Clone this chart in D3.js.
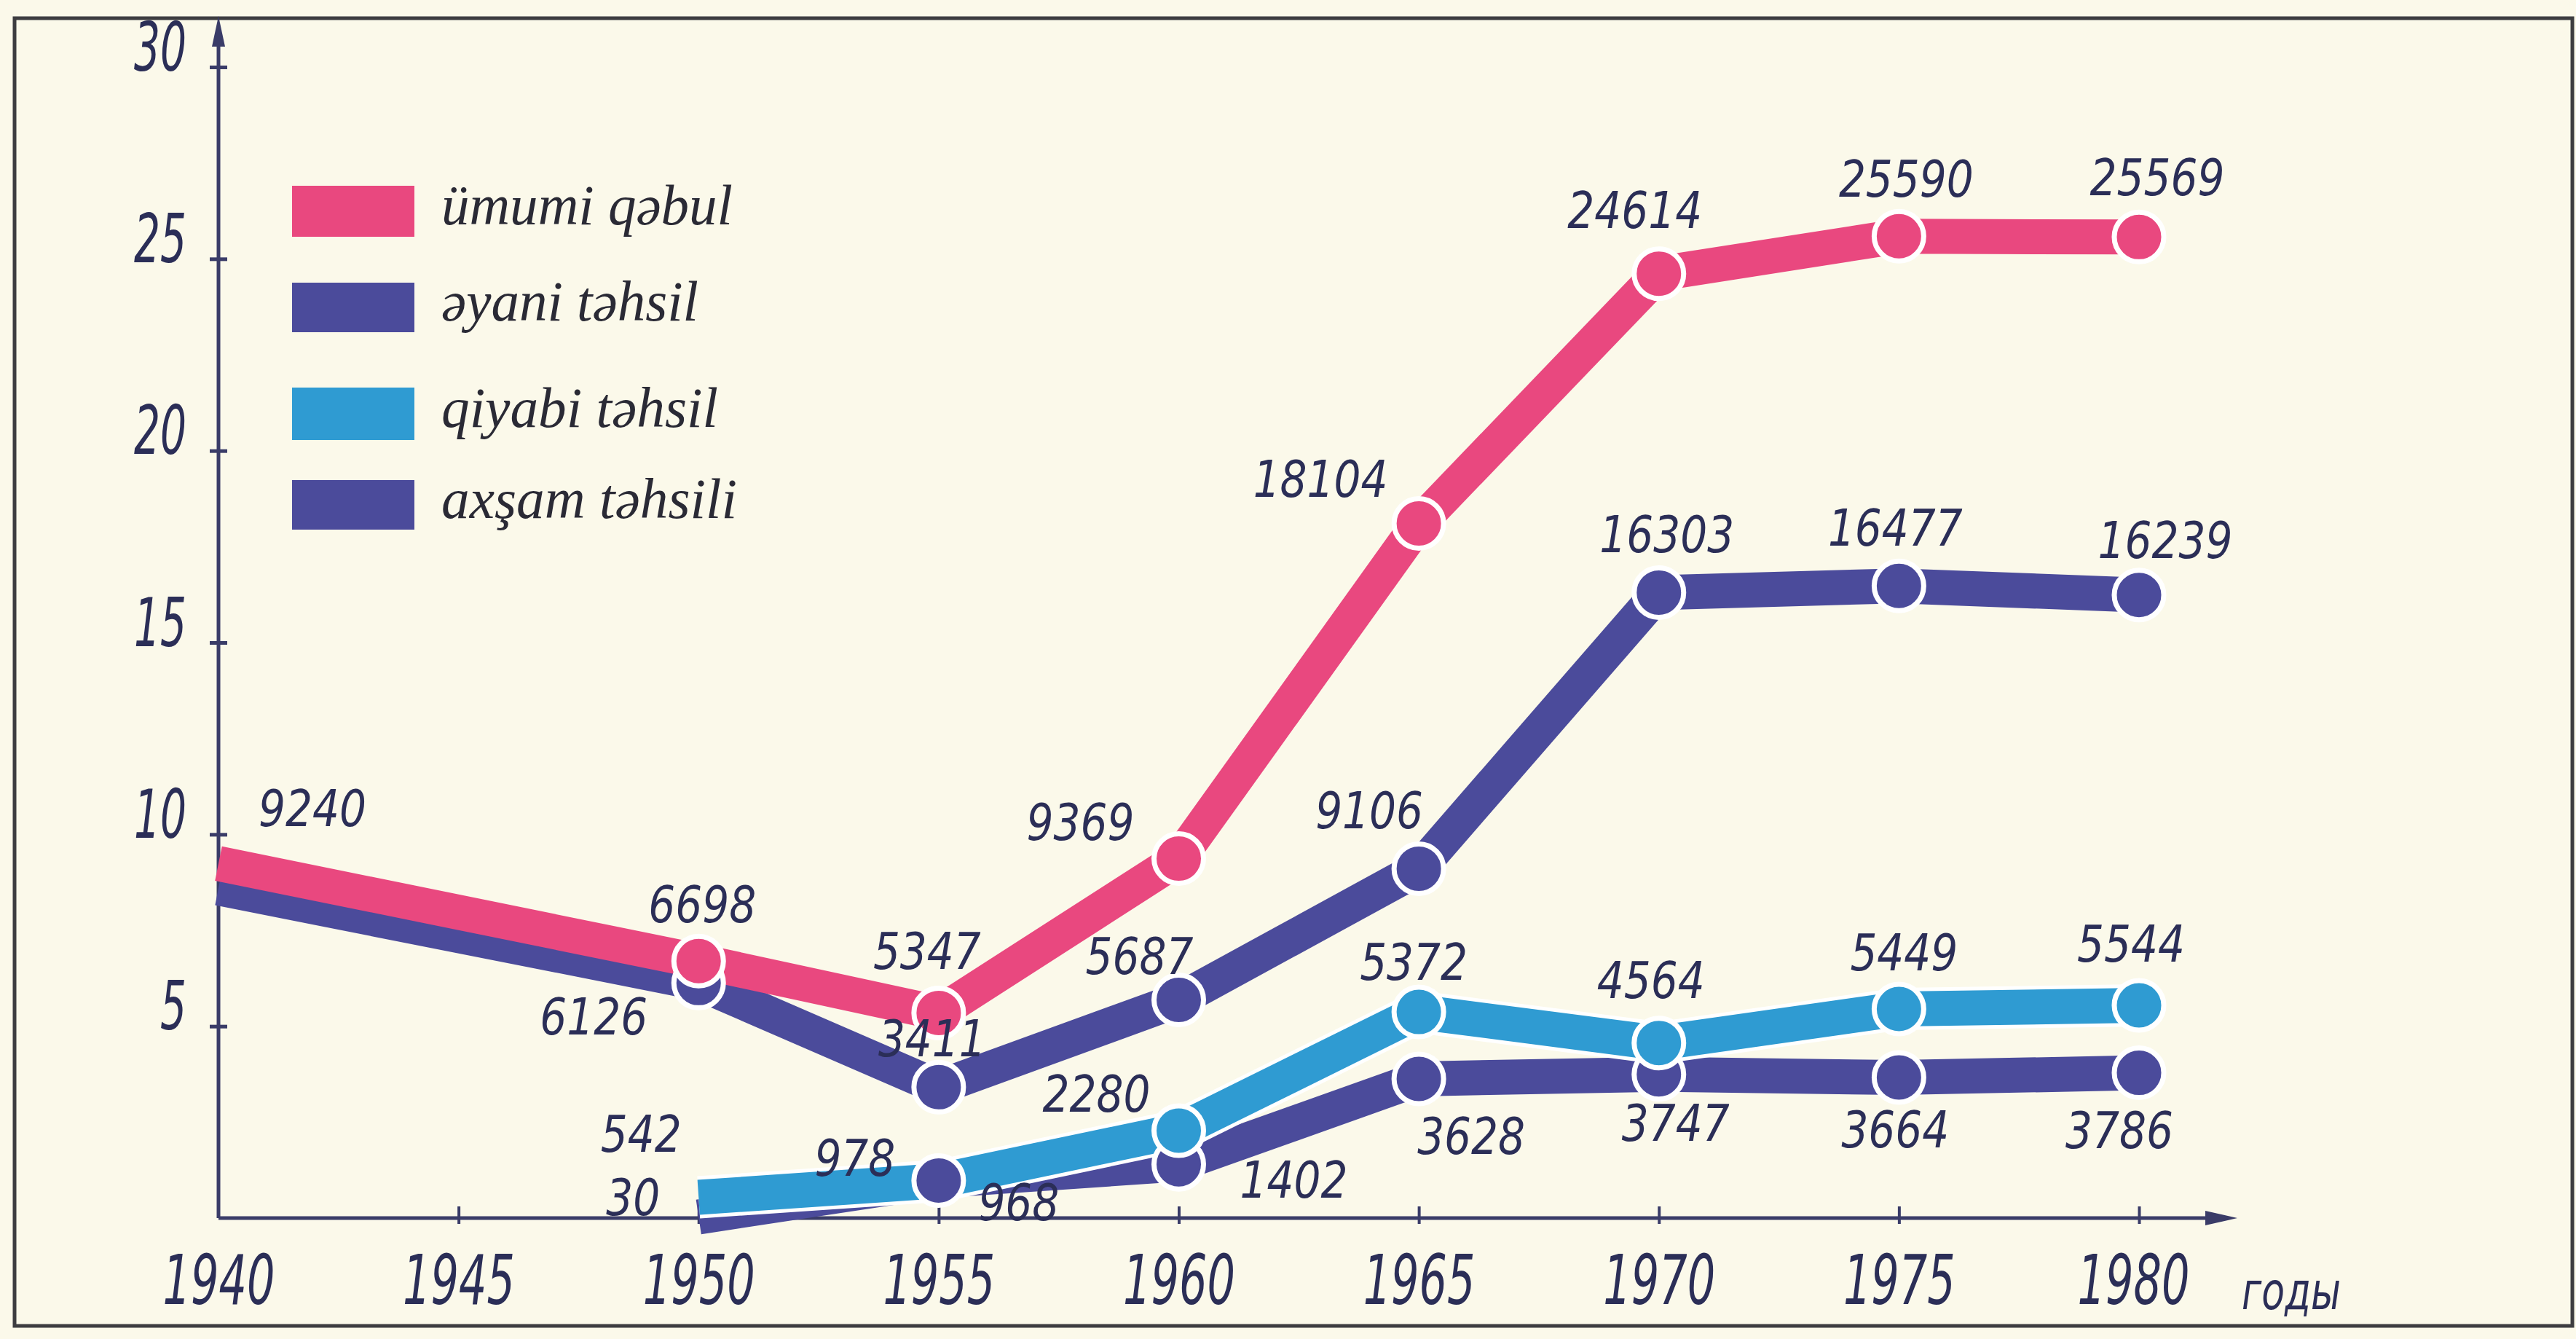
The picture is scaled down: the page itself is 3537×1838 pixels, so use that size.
<!DOCTYPE html>
<html>
<head>
<meta charset="utf-8">
<script src="https://cdn.jsdelivr.net/npm/d3@7"></script>
<style>
  html, body { margin: 0; padding: 0; background: #fbf9ea; }
  svg { display: block; }
</style>
</head>
<body>
<svg id="chart" width="3537" height="1838"></svg>
<script>
// ---- data -------------------------------------------------------------
const yearTicks = [1940, 1945, 1950, 1955, 1960, 1965, 1970, 1975, 1980];
const valueTicks = [5, 10, 15, 20, 25, 30];           // thousands
const seriesNames = ["ümumi qəbul", "əyani təhsil", "qiyabi təhsil", "axşam təhsili"];
const axisUnit = "годы";

const yearsFull = [1940, 1950, 1955, 1960, 1965, 1970, 1975, 1980];
const yearsPart = [1950, 1955, 1960, 1965, 1970, 1975, 1980];

const umumiQebul   = [9240, 6698, 5347, 9369, 18104, 24614, 25590, 25569];
const eyaniTehsil  = [8600, 6126, 3411, 5687, 9106, 16303, 16477, 16239];
const qiyabiTehsil = [542, 968, 2280, 5372, 4564, 5449, 5544];
const axsamTehsili = [30, 978, 1402, 3628, 3747, 3664, 3786];

// ---- styling / layout -------------------------------------------------
const W = 3537, H = 1838;
const PAPER = "#fbf9ea";
const INK = "#2b2e57";
const AXIS = "#3a3c68";
const PINK = "#e9487f";
const INDIGO = "#4b4b9b";
const CYAN = "#2f9bd2";
const BAND = 48, DOT_R = 34;

const DIGITS = "'DejaVu Sans', 'Liberation Sans', sans-serif";
const SERIF = "'Liberation Serif', 'DejaVu Serif', serif";

const x = d3.scaleLinear().domain([1940, 1980]).range([300, 2937]);
const y = d3.scaleLinear().domain([0, 30000]).range([1672, 92]);

// label offsets (label centre relative to its point), and first point carrying a dot
const series = [
  { name: seriesNames[0], years: yearsFull, values: umumiQebul, color: PINK, firstDot: 1,
    offsets: [[129, -77], [5, -79], [-16, -86], [-135, -52], [-135, -63], [-33, -89], [10, -80], [25, -83]] },
  { name: seriesNames[1], years: yearsFull, values: eyaniTehsil, color: INDIGO, firstDot: 1,
    offsets: [null, [-144, 45], [-9, -68], [-54, -61], [-68, -81], [11, -81], [-5, -81], [36, -77]] },
  { name: seriesNames[2], years: yearsPart, values: qiyabiTehsil, color: CYAN, firstDot: 2, casing: true,
    offsets: [[-79, -88], [110, 28], [-113, -52], [-7, -70], [-11, -88], [7, -79], [-11, -86]] },
  { name: seriesNames[3], years: yearsPart, values: axsamTehsili, color: INDIGO, firstDot: 1,
    offsets: [[-90, -28], [-115, -32], [158, 20], [72, 77], [23, 65], [-5, 70], [-27, 77]] }
];
const drawOrder = [3, 1, 0, 2];

const svg = d3.select("#chart");

svg.append("rect").attr("width", W).attr("height", H).attr("fill", PAPER);
svg.append("rect")
  .attr("x", 20).attr("y", 25).attr("width", 3512).attr("height", 1795)
  .attr("fill", "none").attr("stroke", "#3d3d40").attr("stroke-width", 5);

// ---- axes -------------------------------------------------------------
const yAxis = d3.axisLeft(y)
  .tickValues(valueTicks.map(v => v * 1000))
  .tickFormat(v => String(v / 1000))
  .tickSize(12);
const gy = svg.append("g").attr("transform", `translate(${x(1940)},0)`).call(yAxis);
gy.select(".domain").remove();
gy.selectAll(".tick line").attr("x1", -12).attr("x2", 12)
  .attr("stroke", AXIS).attr("stroke-width", 5);
gy.selectAll(".tick text")
  .attr("x", -44).attr("y", 4).attr("dy", null)
  .attr("text-anchor", "end")
  .attr("fill", INK)
  .attr("font-family", DIGITS).attr("font-style", "italic")
  .attr("font-size", 92)
  .attr("textLength", d => String(d / 1000).length * 36)
  .attr("lengthAdjust", "spacingAndGlyphs");

const xAxis = d3.axisBottom(x)
  .tickValues(yearTicks)
  .tickFormat(d3.format("d"))
  .tickSize(0);
const gx = svg.append("g").attr("transform", `translate(0,${y(0)})`).call(xAxis);
gx.select(".domain").remove();
gx.selectAll(".tick line")
  .attr("y1", d => d === 1940 ? 0 : -16).attr("y2", d => d === 1940 ? 0 : 8)
  .attr("stroke", AXIS).attr("stroke-width", 4);
gx.selectAll(".tick text")
  .attr("x", d => d === 1980 ? -8 : 0)
  .attr("y", 118).attr("dy", null)
  .attr("fill", INK)
  .attr("font-family", DIGITS).attr("font-style", "italic")
  .attr("font-size", 94)
  .attr("textLength", 154)
  .attr("lengthAdjust", "spacingAndGlyphs");

// axis lines with arrowheads
svg.append("line")
  .attr("x1", x(1940)).attr("y1", y(0)).attr("x2", x(1940)).attr("y2", 50)
  .attr("stroke", AXIS).attr("stroke-width", 5);
svg.append("path")
  .attr("d", `M${x(1940)},22 L${x(1940) - 9},64 L${x(1940) + 9},64 Z`)
  .attr("fill", AXIS);
svg.append("line")
  .attr("x1", x(1940)).attr("y1", y(0)).attr("x2", 3040).attr("y2", y(0))
  .attr("stroke", AXIS).attr("stroke-width", 5);
svg.append("path")
  .attr("d", `M3072,${y(0)} L3028,${y(0) - 10} L3028,${y(0) + 10} Z`)
  .attr("fill", AXIS);

svg.append("text")
  .attr("x", 3078).attr("y", 1797)
  .attr("fill", INK)
  .attr("font-family", DIGITS).attr("font-style", "italic")
  .attr("font-size", 72)
  .attr("textLength", 136).attr("lengthAdjust", "spacingAndGlyphs")
  .text(axisUnit);

// ---- lines ------------------------------------------------------------
const line = d3.line()
  .x(d => x(d.year))
  .y(d => y(d.value));

const pts = s => s.years.map((yr, i) => ({ year: yr, value: s.values[i], i }));

const gLines = svg.append("g");
drawOrder.forEach(k => {
  const s = series[k];
  if (s.casing) {
    gLines.append("path").datum(pts(s)).attr("d", line)
      .attr("fill", "none").attr("stroke", "#ffffff")
      .attr("stroke-width", BAND + 10).attr("stroke-linejoin", "round");
  }
  gLines.append("path").datum(pts(s)).attr("d", line)
    .attr("fill", "none").attr("stroke", s.color)
    .attr("stroke-width", BAND).attr("stroke-linejoin", "round")
    .attr("stroke-linecap", "butt");
});

// ---- dots -------------------------------------------------------------
const gDots = svg.append("g");
drawOrder.forEach(k => {
  const s = series[k];
  gDots.selectAll(null)
    .data(pts(s).filter(p => p.i >= s.firstDot))
    .join("circle")
    .attr("cx", d => x(d.year)).attr("cy", d => y(d.value))
    .attr("r", DOT_R)
    .attr("fill", s.color)
    .attr("stroke", "#ffffff").attr("stroke-width", 7);
});

// ---- value labels -----------------------------------------------------
const gLabels = svg.append("g")
  .attr("fill", INK)
  .attr("font-family", DIGITS).attr("font-style", "italic")
  .attr("font-size", 70)
  .attr("text-anchor", "middle");
series.forEach(s => {
  gLabels.selectAll(null)
    .data(pts(s).filter(p => s.offsets[p.i]))
    .join("text")
    .attr("x", d => x(d.year) + s.offsets[d.i][0])
    .attr("y", d => y(d.value) + s.offsets[d.i][1] + 26)
    .attr("textLength", d => String(d.value).length * 37)
    .attr("lengthAdjust", "spacingAndGlyphs")
    .text(d => String(d.value));
});

// ---- legend -----------------------------------------------------------
const legendRows = [
  { top: 255, h: 70, textW: 400 },
  { top: 388, h: 68, textW: 353 },
  { top: 532, h: 72, textW: 380 },
  { top: 659, h: 68, textW: 406 }
];
const legendColors = [PINK, INDIGO, CYAN, INDIGO];
const gLeg = svg.append("g");
seriesNames.forEach((name, i) => {
  const r = legendRows[i];
  gLeg.append("rect")
    .attr("x", 401).attr("y", r.top).attr("width", 168).attr("height", r.h)
    .attr("fill", legendColors[i]);
  gLeg.append("text")
    .attr("x", 606).attr("y", r.top + r.h / 2 + 18)
    .attr("fill", "#2a2a35")
    .attr("font-family", SERIF).attr("font-style", "italic")
    .attr("font-size", 78)
    .attr("textLength", r.textW).attr("lengthAdjust", "spacingAndGlyphs")
    .text(name);
});
</script>
</body>
</html>
